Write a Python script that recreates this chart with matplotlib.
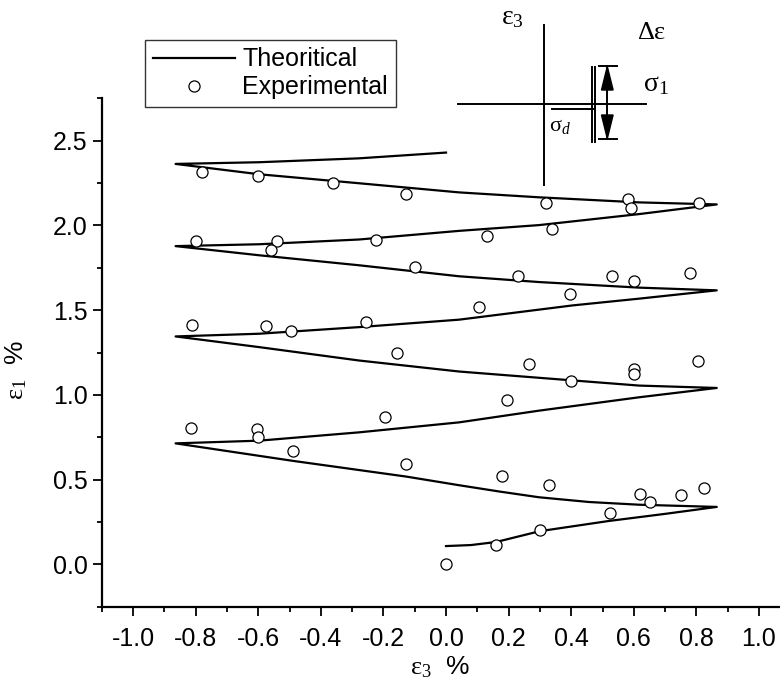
import matplotlib
matplotlib.use('Agg')
import matplotlib.pyplot as plt
from matplotlib.ticker import MultipleLocator, FormatStrFormatter

plt.rcParams['font.family'] = ['Liberation Sans', 'DejaVu Sans']
plt.rcParams['mathtext.fontset'] = 'custom'
plt.rcParams['mathtext.rm'] = 'Liberation Serif'
plt.rcParams['mathtext.it'] = 'Liberation Serif:italic'

# theoretical zigzag (one continuous path)
theo_x = [0.0, 0.08, 0.16, 0.30, 0.52, 0.70, 0.865,
          0.617, 0.457, 0.297, 0.17, 0.042, -0.127, -0.49, -0.864,
          -0.597, -0.278, 0.042, 0.297, 0.617, 0.865,
          0.617, 0.297, 0.042, -0.278, -0.597, -0.864,
          -0.597, -0.278, 0.042, 0.404, 0.617, 0.865,
          0.617, 0.297, 0.042, -0.278, -0.597, -0.864,
          -0.597, -0.278, 0.042, 0.297, 0.617, 0.865,
          0.617, 0.297, 0.042, -0.278, -0.597, -0.864,
          -0.597, -0.278, 0.0]
theo_y = [0.108, 0.114, 0.132, 0.196, 0.256, 0.298, 0.339,
          0.352, 0.368, 0.396, 0.430, 0.467, 0.518, 0.611, 0.714,
          0.730, 0.779, 0.838, 0.907, 0.986, 1.041,
          1.055, 1.101, 1.138, 1.203, 1.282, 1.345,
          1.361, 1.400, 1.444, 1.528, 1.568, 1.617,
          1.633, 1.666, 1.700, 1.765, 1.824, 1.878,
          1.889, 1.917, 1.968, 2.002, 2.067, 2.124,
          2.136, 2.166, 2.195, 2.249, 2.302, 2.363,
          2.373, 2.396, 2.430]

# experimental points
exp_x = [-0.781, -0.600, -0.361, -0.127, 0.318, 0.583, 0.590, 0.809,
         -0.800, -0.539, -0.560, -0.223, 0.130, 0.338,
         -0.100, 0.229, 0.395, 0.529, 0.601, 0.780,
         -0.810, -0.576, -0.496, -0.255, 0.104,
         -0.156, 0.265, 0.400, 0.601, 0.601, 0.805,
         -0.816, -0.603, -0.601, -0.195, 0.195,
         -0.490, -0.127, 0.180, 0.329, 0.619, 0.651, 0.750, 0.824,
         0.000, 0.160, 0.299, 0.524]
exp_y = [2.317, 2.293, 2.252, 2.185, 2.134, 2.157, 2.101, 2.134,
         1.907, 1.909, 1.854, 1.917, 1.938, 1.978,
         1.753, 1.702, 1.598, 1.704, 1.672, 1.718,
         1.410, 1.404, 1.376, 1.428, 1.521,
         1.246, 1.183, 1.080, 1.154, 1.124, 1.201,
         0.802, 0.799, 0.749, 0.867, 0.972,
         0.670, 0.592, 0.522, 0.469, 0.414, 0.370, 0.408, 0.453,
         0.000, 0.116, 0.201, 0.305]

fig = plt.figure(figsize=(7.8, 6.95), dpi=100)
ax = fig.add_axes([0.1304, 0.127, 0.8828, 0.7315])

ax.plot(theo_x, theo_y, color='black', lw=1.6, label='Theoritical')
ax.plot(exp_x, exp_y, 'o', ms=8, mfc='white', mec='black', mew=0.9,
        label='Experimental')

ax.set_xlim(-1.1, 1.1)
ax.set_ylim(-0.25, 2.75)
ax.spines['top'].set_visible(False)
ax.spines['right'].set_visible(False)
for s in ['left', 'bottom']:
    ax.spines[s].set_linewidth(1.6)
ax.xaxis.set_major_locator(MultipleLocator(0.2))
ax.xaxis.set_minor_locator(MultipleLocator(0.1))
ax.yaxis.set_major_locator(MultipleLocator(0.5))
ax.yaxis.set_minor_locator(MultipleLocator(0.25))
ax.xaxis.set_major_formatter(FormatStrFormatter('%.1f'))
ax.yaxis.set_major_formatter(FormatStrFormatter('%.1f'))
ax.tick_params(which='major', length=6.5, width=1.3, labelsize=18, direction='out')
ax.tick_params(which='minor', length=3.6, width=1.3, direction='out')
ax.tick_params(axis='x', pad=8)

ax.set_xlabel(r'$\mathrm{ε}_{3}$  %', fontsize=19)
ax.set_ylabel(r'$\mathrm{ε}_{1}$  %', fontsize=19)
ax.xaxis.set_label_coords(0.491, -0.093)
ax.yaxis.set_label_coords(-0.105, 0.466)

leg = ax.legend(loc='upper left', bbox_to_anchor=(145/780, 1 - 40/695),
                bbox_transform=fig.transFigure, fontsize=18, frameon=True,
                fancybox=False, edgecolor='black', borderpad=0.3,
                handlelength=3.3, handletextpad=0.3, labelspacing=0.15,
                borderaxespad=0)
leg.get_frame().set_linewidth(1.0)

# schematic of the loading path (pixel coordinates on an overlay)
ov = fig.add_axes([0, 0, 1, 1])
ov.set_xlim(0, 780)
ov.set_ylim(695, 0)
ov.axis('off')
k = dict(color='black', lw=1.4)
ov.plot([544, 544], [25, 185], **k)
ov.plot([458, 646], [104.3, 104.3], **k)
ov.plot([552, 593], [108.7, 108.7], **k)
ov.plot([591.7, 591.7], [66.7, 141.7], **k)
ov.plot([595, 595], [66.7, 141.7], **k)
ov.plot([607.3, 607.3], [66, 139], **k)
ov.plot([599, 617], [65.7, 65.7], **k)
ov.plot([599, 617], [139.3, 139.3], **k)
ov.fill([607.3, 601.5, 613.1], [66.5, 90, 90], color='black')
ov.fill([607.3, 601.5, 613.1], [138.5, 115, 115], color='black')
ov.text(501, 17, r'$\mathrm{ε}_{3}$', fontsize=20, ha='left', va='center')
ov.text(652, 32, r'$\mathrm{Δε}$', fontsize=19, ha='center', va='center')
ov.text(643, 84, r'$\mathrm{σ}_{1}$', fontsize=20, ha='left', va='center')
ov.text(549, 125, r'$\mathrm{σ}_{d}$', fontsize=16, ha='left', va='center')

fig.savefig('out.png', dpi=100)
